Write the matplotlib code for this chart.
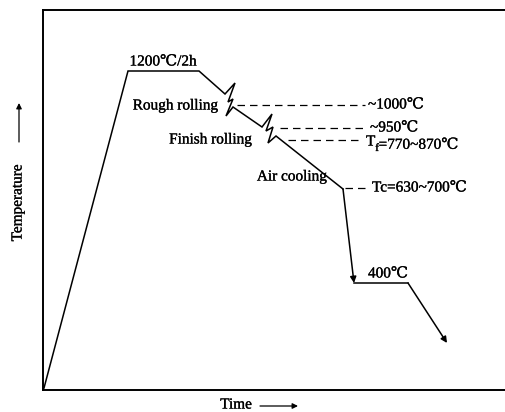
import matplotlib
matplotlib.use("Agg")
import matplotlib.pyplot as plt
import matplotlib.patheffects as pe

plt.rcParams['font.family'] = ['Liberation Serif', 'DejaVu Serif']

# Schematic thermal-mechanical route (time vs temperature, arbitrary units)
route_time = [1, 85, 156, 182, 192, 185, 190, 183, 190, 219, 229, 223, 230, 225, 233, 300]
route_temp = [2, 319, 319, 296, 307, 288, 291, 274, 283, 263, 276, 259, 263, 247, 254, 201]

# Fast quench from Tc down to 400 C, hold, then final cooling
quench_time = [300, 311]
quench_temp = [201, 107]
hold_time = [311, 365]
hold_temp = [107, 107]
final_time = [365, 404]
final_temp = [107, 47]

# Reference temperature levels (dashed guides) and their labels
level_names = ["~1000℃", "~950℃", "Tf", "Tc=630~700℃"]
level_temp = [285, 262, 250, 202]
level_start = [194, 237, 245, 302]
level_end = [322, 324, 320, 325]
level_label_temp = [285, 262, 248, 202]
level_label_time = [325, 327, 323, 329]

stage_labels = ["1200℃/2h", "Rough rolling", "Finish rolling", "Air cooling", "400℃"]

ink = [pe.withStroke(linewidth=0.2, foreground='k')]

fig = plt.figure(figsize=(5.05, 4.12), dpi=100)
ax = fig.add_axes([43 / 505, 22 / 412, 462 / 505, 380 / 412])
ax.set_xlim(0, 462)
ax.set_ylim(0, 380)
ax.set_xticks([])
ax.set_yticks([])
ax.spines['right'].set_visible(False)
for s in ['left', 'bottom', 'top']:
    ax.spines[s].set_linewidth(1.4)

lw = 1.1
ax.plot(route_time, route_temp, color='k', lw=lw, solid_joinstyle='miter')
ax.plot(hold_time, hold_temp, color='k', lw=lw)

arrow = dict(arrowstyle='-|>', mutation_scale=9, lw=lw, color='k',
             shrinkA=0, shrinkB=0)
ax.annotate("", xy=(quench_time[1], quench_temp[1]),
            xytext=(quench_time[0], quench_temp[0]), arrowprops=arrow)
ax.annotate("", xy=(final_time[1], final_temp[1]),
            xytext=(final_time[0], final_temp[0]), arrowprops=arrow)

for t, a, b in zip(level_temp, level_start, level_end):
    ax.plot([a, b], [t, t], color='k', lw=0.9, dashes=(6, 4))

fs = 11
for name, tx, ty in zip(level_names, level_label_time, level_label_temp):
    if name == "Tf":
        t1 = ax.text(tx, ty, "T", fontsize=fs, ha='left', va='center',
                     path_effects=ink)
        t2 = ax.annotate("f", xy=(1, 0.0), xycoords=t1, xytext=(0, 0),
                         textcoords='offset points', fontsize=8,
                         ha='left', va='center', path_effects=ink)
        ax.annotate("=770~870℃", xy=(1, 0.5), xycoords=t2, xytext=(-0.3, 2.3),
                    textcoords='offset points', fontsize=fs, ha='left',
                    va='center', path_effects=ink)
    else:
        ax.text(tx, ty, name, fontsize=fs, ha='left', va='center',
                path_effects=ink)

ax.text(120, 328, stage_labels[0], fontsize=fs, ha='center', va='center',
        path_effects=ink)
ax.text(175, 284, stage_labels[1], fontsize=fs, ha='right', va='center',
        path_effects=ink)
ax.text(209, 250, stage_labels[2], fontsize=fs, ha='right', va='center',
        path_effects=ink)
ax.text(284, 213, stage_labels[3], fontsize=fs, ha='right', va='center',
        path_effects=ink)
ax.text(325, 116, stage_labels[4], fontsize=fs, ha='left', va='center',
        path_effects=ink)

# Axis captions with direction arrows (figure pixel coordinates)
fig.text(236 / 505, 1 - 405 / 412, "Time", fontsize=11, ha='center',
         va='center', path_effects=ink)
fig.add_artist(matplotlib.patches.FancyArrowPatch(
    (260 / 505, 1 - 406 / 412), (298 / 505, 1 - 406 / 412),
    transform=fig.transFigure, arrowstyle='-|>', mutation_scale=8,
    lw=0.9, color='k', shrinkA=0, shrinkB=0))
fig.text(18 / 505, 1 - 203 / 412, "Temperature", fontsize=11, rotation=90,
         ha='center', va='center', path_effects=ink)
fig.add_artist(matplotlib.patches.FancyArrowPatch(
    (19 / 505, 1 - 142 / 412), (19 / 505, 1 - 103 / 412),
    transform=fig.transFigure, arrowstyle='-|>', mutation_scale=8,
    lw=0.9, color='k', shrinkA=0, shrinkB=0))

fig.savefig("out.png", dpi=100)
